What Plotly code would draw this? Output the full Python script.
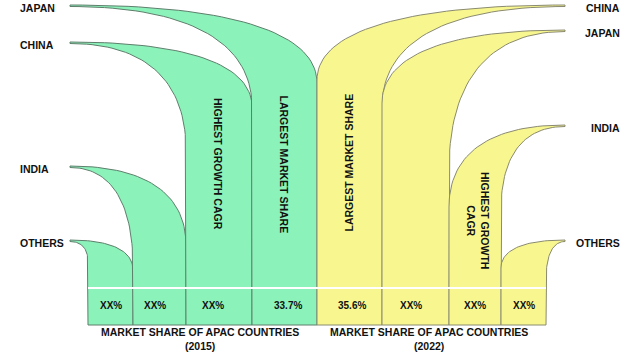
import numpy as np
import plotly.graph_objects as go

# ---------------- data ----------------
countries_2015 = ["OTHERS", "INDIA", "CHINA", "JAPAN"]      # left -> right
share_2015 = [45, 53, 66, 65]                               # relative widths
pct_2015 = ["XX%", "XX%", "XX%", "33.7%"]
level_2015 = [85, 159, 283, 320]                            # flag tip level

countries_2022 = ["CHINA", "JAPAN", "INDIA", "OTHERS"]      # left -> right
share_2022 = [65, 67, 52, 45]
pct_2022 = ["35.6%", "XX%", "XX%", "XX%"]
level_2022 = [320, 295, 200, 85]

notes_2015 = {"CHINA": "HIGHEST GROWTH CAGR", "JAPAN": "LARGEST MARKET SHARE"}
notes_2022 = {"CHINA": "LARGEST MARKET SHARE", "INDIA": "HIGHEST GROWTH<br>CAGR"}

# ---------------- geometry / style ----------------
X_START = 88
TIP_LEFT, TIP_RIGHT = 70, 565
SHOULDER_2015 = [(63, 55), (58, 80), (175, 218), (218, 242)]   # (near, far)
SHOULDER_2022 = [(218, 245), (155, 222), (115, 118), (45, 57)]
PCT_SHIFT_2015 = [0, -5, -6, 3]
PCT_SHIFT_2022 = [2, -5, 0, 0]
GREEN, YELLOW = "#8BF2BA", "#F8F78F"
FONT = "Liberation Sans, Arial, sans-serif"


def bez(p0, p1, p2, p3, n=40):
    t = np.linspace(0, 1, n)[:, None]
    pts = ((1 - t) ** 3) * np.array(p0) + 3 * ((1 - t) ** 2) * t * np.array(p1) \
        + 3 * (1 - t) * t ** 2 * np.array(p2) + t ** 3 * np.array(p3)
    return pts[:, 0], pts[:, 1]


def flag(x_near, x_far, tx, ty, h_near, h_far, a=0.65, b=0.65, d=1.5):
    lx, ly = bez((x_near, h_near), (x_near, h_near + b * (ty - d - h_near)),
                 (tx + a * (x_near - tx), ty - d), (tx, ty - d))
    ux, uy = bez((tx, ty), (tx + a * (x_far - tx), ty),
                 (x_far, h_far + b * (ty - h_far)), (x_far, h_far))
    xs = np.concatenate([[x_near], lx, ux, [x_far, x_near]])
    ys = np.concatenate([[0], ly, uy, [0, 0]])
    return xs, ys


fig = go.Figure()
annotations = []


def add_group(countries, shares, pcts, levels, shoulders, shifts, x0, tip_x, left, color, line):
    edges = x0 + np.concatenate([[0], np.cumsum(shares)])
    for i, c in enumerate(countries):
        xl, xr = edges[i], edges[i + 1]
        near, far = (xl, xr) if left else (xr, xl)
        hn, hf = shoulders[i]
        xs, ys = flag(near, far, tip_x, levels[i], hn, hf)
        fig.add_trace(go.Scatter(x=xs, y=ys, mode="lines", fill="toself",
                                 fillcolor=color, line=dict(color=line, width=1),
                                 hoverinfo="text", text=f"{c}: {pcts[i]}",
                                 showlegend=False))
        annotations.append(dict(x=(xl + xr) / 2 + shifts[i], y=20, text=f"<b>{pcts[i]}</b>",
                                showarrow=False, font=dict(size=10, color="#111", family=FONT)))
        annotations.append(dict(x=18 if left else 622, y=levels[i] - 3,
                                text=f"<b>{c}</b>", showarrow=False,
                                xanchor="left" if left else "right",
                                font=dict(size=10.5, color="#111", family=FONT)))
    return edges


e15 = add_group(countries_2015, share_2015, pct_2015, level_2015, SHOULDER_2015,
                PCT_SHIFT_2015, X_START, TIP_LEFT, True, GREEN, "#5E7F6C")
e22 = add_group(countries_2022, share_2022, pct_2022, level_2022, SHOULDER_2022,
                PCT_SHIFT_2022, e15[-1], TIP_RIGHT, False, YELLOW, "#8A8A70")

# vertical notes
for notes, countries, edges, ang in [(notes_2015, countries_2015, e15, 90),
                                     (notes_2022, countries_2022, e22, None)]:
    for c, txt in notes.items():
        i = countries.index(c)
        xc = (edges[i] + edges[i + 1]) / 2
        if ang == 90:
            angle, yc = 90, 161
        elif c == "CHINA":
            angle, yc = -90, 162
        else:
            angle, yc = 90, 105
        annotations.append(dict(x=xc + (-1 if c != "INDIA" else 3), y=yc, text=f"<b>{txt}</b>",
                                textangle=angle, showarrow=False,
                                font=dict(size=10.5, color="#111", family=FONT)))

# titles under each group
for edges, yr in [(e15, "2015"), (e22, "2022")]:
    annotations.append(dict(x=(edges[0] + edges[-1]) / 2 - 3, y=-14,
                            text=f"<b>MARKET SHARE OF APAC COUNTRIES<br>({yr})</b>",
                            showarrow=False,
                            font=dict(size=10.5, color="#111", family=FONT)))

fig.add_shape(type="line", x0=e15[0], x1=e22[-1], y0=37, y1=37,
              line=dict(color="white", width=2), layer="above")

fig.update_layout(width=640, height=360, margin=dict(l=0, r=0, t=0, b=0),
                  paper_bgcolor="white", plot_bgcolor="white",
                  xaxis=dict(range=[0, 640], visible=False, fixedrange=True),
                  yaxis=dict(range=[-35, 325], visible=False, fixedrange=True),
                  annotations=annotations, showlegend=False)

fig.write_html("out.html", config={"displayModeBar": False},
               post_script="document.body.style.margin='0';document.body.style.overflow='hidden';")
